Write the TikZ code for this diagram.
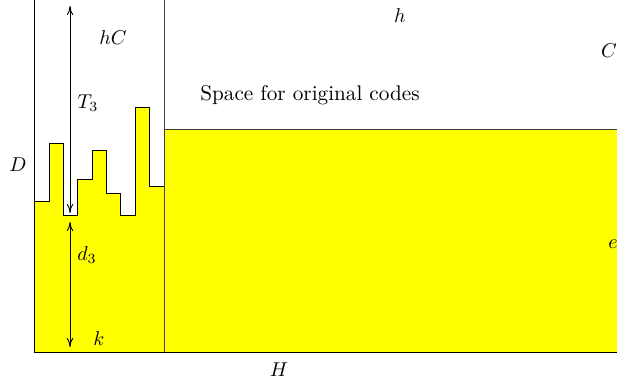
\documentclass[tikz,border=0pt]{standalone}
\usetikzlibrary{arrows.meta}
\definecolor{pureyellow}{RGB}{255,255,0}
\begin{document}
\begin{tikzpicture}[x=0.5pt,y=-0.5pt,
  fillarea/.style={fill=pureyellow,draw=black,line width=0.45pt},
  edge/.style={draw=black,line width=0.5pt},
  inner/.style={draw=black!75,line width=0.5pt},
  dim/.style={{To[length=4.5pt,width=3.2pt]}-{To[length=4.5pt,width=3.2pt]},line width=0.45pt},
  lbl/.style={inner sep=0pt}]
\useasboundingbox (0,0) rectangle (617,381);
% right yellow block
\fill[pureyellow] (164,129) rectangle (620,352);
\draw[inner] (164,129) -- (620,129);
% left yellow profile
\filldraw[fillarea] (34.7,352) -- (34.7,201) -- (49,201) -- (49,143.3) -- (63.3,143.3) -- (63.3,215.3)
  -- (77.3,215.3) -- (77.3,179.3) -- (92,179.3) -- (92,150.7) -- (106.7,150.7) -- (106.7,193.3)
  -- (120.7,193.3) -- (120.7,215.3) -- (135,215.3) -- (135,107.3) -- (149.3,107.3) -- (149.3,186.7)
  -- (164,186.7) -- (164,352) -- cycle;
% frame lines
\draw[edge] (34.7,-2) -- (34.7,352);
\draw[inner] (164,-2) -- (164,352);
\draw[edge] (34.7,352) -- (620,352);
% dimension arrows
\coordinate (t3a) at (70,6);
\coordinate (t3b) at (70,213);
\coordinate (d3a) at (70,222);
\coordinate (d3b) at (70,347);
\draw[dim] (t3a) -- (t3b);
\draw[dim] (d3a) -- (d3b);
% labels
\node[lbl] (hC) at (113,38) {$hC$};
\node[lbl] (T3) at (88,103) {$T_3$};
\node[lbl] (D) at (18,165) {$D$};
\node[lbl] (d3) at (87,255) {$d_3$};
\node[lbl] (k) at (99,339) {$k$};
\node[lbl] (H) at (279,370) {$H$};
\node[lbl] (h) at (400,16) {$h$};
\node[lbl] (C) at (609,51) {$C$};
\node[lbl] (e) at (613,244) {$e$};
\node[lbl,scale=1.06] (space) at (310,95) {Space for original codes};
\end{tikzpicture}
\end{document}
